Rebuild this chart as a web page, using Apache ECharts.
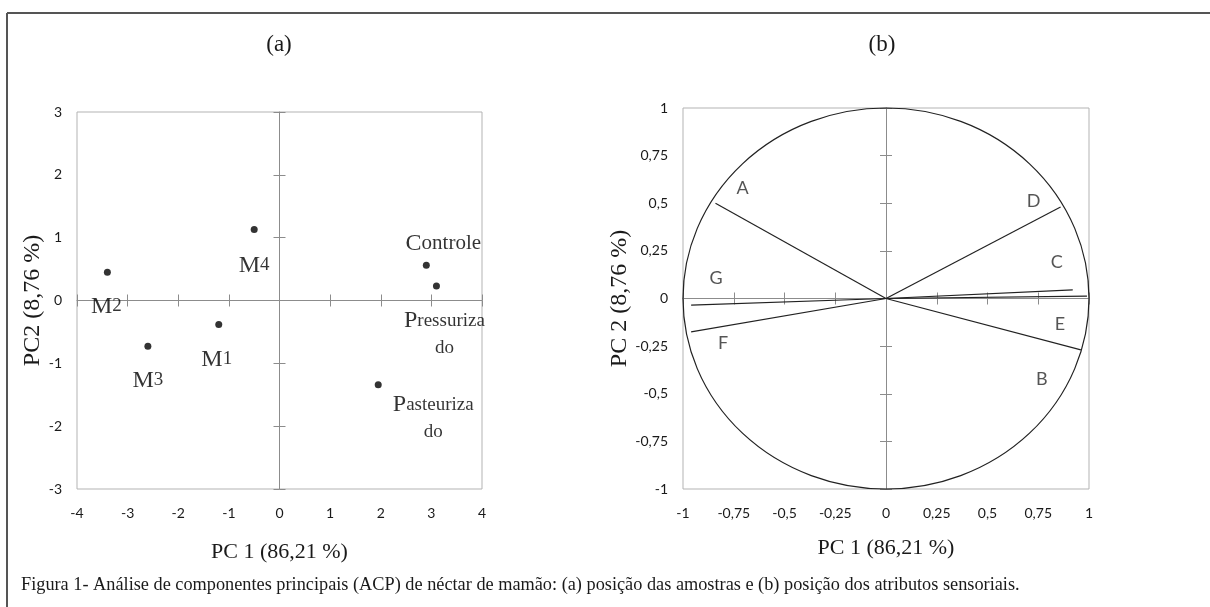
<!DOCTYPE html>
<html><head><meta charset="utf-8">
<script src="https://cdn.jsdelivr.net/npm/echarts@6/dist/echarts.min.js"></script>
<style>html,body{margin:0;padding:0;background:#fff}#c{width:1210px;height:607px}</style>
</head><body><div id="c"></div>
<script>
// ---------- texts ----------
const titleA = '(a)';
const titleB = '(b)';
const caption = 'Figura 1- Análise de componentes principais (ACP) de néctar de mamão: (a) posição das amostras e (b) posição dos atributos sensoriais.';
const xNameA = 'PC 1 (86,21 %)';
const yNameA = 'PC2 (8,76 %)';
const xNameB = 'PC 1 (86,21 %)';
const yNameB = 'PC 2 (8,76 %)';

// ---------- data (a): sample scores ----------
const sampleNames = ['M1', 'M2', 'M3', 'M4', 'Controle', 'Pressurizado', 'Pasteurizado'];
const samplePC1 = [-1.2, -3.4, -2.6, -0.5, 2.9, 3.1, 1.95];
const samplePC2 = [-0.38, 0.45, -0.73, 1.13, 0.56, 0.23, -1.34];

// ---------- data (b): attribute loadings ----------
const attrNames = ['A', 'B', 'C', 'D', 'E', 'F', 'G'];
const attrPC1 = [-0.84, 0.96, 0.92, 0.86, 0.99, -0.96, -0.96];
const attrPC2 = [0.50, -0.27, 0.045, 0.48, 0.012, -0.175, -0.035];
const circleCenter = [0, 0];
const circleRadius = 1;

// ---------- ticks ----------
const ticksAX = [-4, -3, -2, -1, 0, 1, 2, 3, 4];
const tickLabelsAX = ['-4', '-3', '-2', '-1', '0', '1', '2', '3', '4'];
const ticksAY = [-3, -2, -1, 0, 1, 2, 3];
const tickLabelsAY = ['-3', '-2', '-1', '0', '1', '2', '3'];
const ticksB = [-1, -0.75, -0.5, -0.25, 0, 0.25, 0.5, 0.75, 1];
const tickLabelsB = ['-1', '-0,75', '-0,5', '-0,25', '0', '0,25', '0,5', '0,75', '1'];

// ---------- styles / layout ----------
const serif = 'Liberation Serif';
const sans = 'Lato';
const sampleLabelRich = {
  M1: '{big|M}{sm|1}', M2: '{big|M}{sm|2}', M3: '{big|M}{sm|3}', M4: '{big|M}{sm|4}',
  Controle: '{big|C}{md|ontrole}',
  Pressurizado: '{big|P}{sm|ressuriza}\n{sm|do}',
  Pasteurizado: '{big|P}{sm|asteuriza}\n{sm|do}'
};
const sampleLabelOffset = {
  M1: [-2, 35], M2: [-1, 34], M3: [0, 34], M4: [0, 36],
  Controle: [17, -22], Pressurizado: [8, 48], Pasteurizado: [55, 34]
};
const attrLabelOffset = {
  A: [27, -15], B: [-39, 29], C: [-16, -28], D: [-27, -6], E: [-27, 28], F: [32, 11], G: [25, -27]
};

function lookup(ticks, labels) {
  return function (v) {
    const i = ticks.findIndex(t => Math.abs(t - v) < 1e-9);
    return i >= 0 ? labels[i] : '';
  };
}

const zeroLine = { color: '#8c8c8c', width: 1 };
const tickLabelStyle = { fontFamily: sans, fontSize: 14, color: '#1a1a1a' };
const nameStyle = { fontFamily: serif, fontSize: 22, color: '#1a1a1a' };

function axesFor(dim, gridIndex, min, max, interval, ticks, labels, name, nameGap, zeroRef, margin) {
  const pos = dim === 'x' ? 'bottom' : 'left';
  const base = { type: 'value', gridIndex, min, max, interval, position: pos, splitLine: { show: false } };
  const nameOpts = dim === 'x'
    ? { name, nameLocation: 'middle', nameGap, nameTextStyle: nameStyle }
    : { name, nameLocation: 'middle', nameGap, nameRotate: 90, nameTextStyle: Object.assign({}, nameStyle, { fontSize: 24 }) };
  return [
    Object.assign({}, base, nameOpts, {
      axisLine: { show: false, onZero: false },
      axisTick: { show: false },
      axisLabel: Object.assign({ show: true, margin, formatter: lookup(ticks, labels) }, tickLabelStyle)
    }),
    Object.assign({}, base, {
      axisLine: { show: true, onZero: true, onZeroAxisIndex: zeroRef, lineStyle: zeroLine },
      axisTick: { show: true, inside: true, length: 6, lineStyle: zeroLine },
      axisLabel: { show: false }
    }),
    Object.assign({}, base, {
      axisLine: { show: false, onZero: true, onZeroAxisIndex: zeroRef },
      axisTick: { show: true, inside: false, length: 6, lineStyle: zeroLine },
      axisLabel: { show: false }
    })
  ];
}

const xAxes = [].concat(
  axesFor('x', 0, -4, 4, 1, ticksAX, tickLabelsAX, xNameA, 52, 0, 17),
  axesFor('x', 1, -1, 1, 0.25, ticksB, tickLabelsB, xNameB, 48, 3, 17)
);
const yAxes = [].concat(
  axesFor('y', 0, -3, 3, 1, ticksAY, tickLabelsAY, yNameA, 21, 0, 15),
  axesFor('y', 1, -1, 1, 0.25, ticksB, tickLabelsB, yNameB, 37, 3, 15)
);

const chart = echarts.init(document.getElementById('c'));
chart.setOption({
  backgroundColor: '#fff',
  animation: false,
  title: [
    { text: titleA, left: 279, top: 33, textAlign: 'center', padding: 0,
      textStyle: { fontFamily: serif, fontSize: 23, fontWeight: 'normal', color: '#1a1a1a' } },
    { text: titleB, left: 882, top: 33, textAlign: 'center', padding: 0,
      textStyle: { fontFamily: serif, fontSize: 23, fontWeight: 'normal', color: '#1a1a1a' } },
    { text: caption, left: 21, top: 576, padding: 0,
      textStyle: { fontFamily: serif, fontSize: 18.3, fontWeight: 'normal', color: '#1a1a1a' } }
  ],
  graphic: [
    { type: 'line', shape: { x1: 7, y1: 13, x2: 1210, y2: 13 }, style: { stroke: '#555', lineWidth: 2 } },
    { type: 'line', shape: { x1: 7, y1: 13, x2: 7, y2: 607 }, style: { stroke: '#555', lineWidth: 2 } }
  ],
  grid: [
    { left: 77, top: 112, width: 405, height: 377, show: true, borderColor: '#b3b3b3', borderWidth: 1, containLabel: false, outerBoundsMode: 'none' },
    { left: 683, top: 108, width: 406, height: 381, show: true, borderColor: '#b3b3b3', borderWidth: 1, containLabel: false, outerBoundsMode: 'none' }
  ],
  xAxis: xAxes,
  yAxis: yAxes,
  series: [
    {
      type: 'scatter', xAxisIndex: 0, yAxisIndex: 0, symbol: 'circle', symbolSize: 7,
      itemStyle: { color: '#000' },
      data: sampleNames.map((n, i) => ({
        name: n, value: [samplePC1[i], samplePC2[i]],
        label: { offset: sampleLabelOffset[n] }
      })),
      label: {
        show: true, position: 'inside', align: 'center', verticalAlign: 'middle',
        formatter: p => sampleLabelRich[p.name],
        color: '#000', fontFamily: serif,
        rich: {
          big: { fontFamily: serif, fontSize: 24, color: '#000', lineHeight: 27 },
          md: { fontFamily: serif, fontSize: 21, color: '#000', lineHeight: 27 },
          sm: { fontFamily: serif, fontSize: 19, color: '#000', lineHeight: 27 }
        }
      },
      z: 5
    },
    {
      type: 'custom', xAxisIndex: 3, yAxisIndex: 3, silent: true,
      data: [[circleCenter[0], circleCenter[1], circleRadius]],
      renderItem: function (params, api) {
        const c = api.coord([api.value(0), api.value(1)]);
        const s = api.size([api.value(2), api.value(2)]);
        return {
          type: 'circle', x: c[0], y: c[1], scaleY: s[1] / s[0],
          shape: { cx: 0, cy: 0, r: s[0] },
          style: { fill: 'none', stroke: '#222', lineWidth: 1.2 }
        };
      },
      z: 3
    },
    {
      type: 'custom', xAxisIndex: 3, yAxisIndex: 3, silent: true,
      data: attrNames.map((n, i) => [attrPC1[i], attrPC2[i]]),
      renderItem: function (params, api) {
        const o = api.coord([0, 0]);
        const p = api.coord([api.value(0), api.value(1)]);
        return {
          type: 'line', shape: { x1: o[0], y1: o[1], x2: p[0], y2: p[1] },
          style: { stroke: '#222', lineWidth: 1.2 }
        };
      },
      z: 4
    },
    {
      type: 'scatter', xAxisIndex: 3, yAxisIndex: 3, symbol: 'circle', symbolSize: 1,
      itemStyle: { color: 'rgba(0,0,0,0)' },
      data: attrNames.map((n, i) => ({
        name: n, value: [attrPC1[i], attrPC2[i]],
        label: { offset: attrLabelOffset[n] }
      })),
      label: {
        show: true, position: 'inside', align: 'center', verticalAlign: 'middle',
        formatter: p => p.name, fontFamily: sans, fontSize: 18, color: '#2a2a2a'
      },
      z: 6
    }
  ]
});
</script></body></html>
